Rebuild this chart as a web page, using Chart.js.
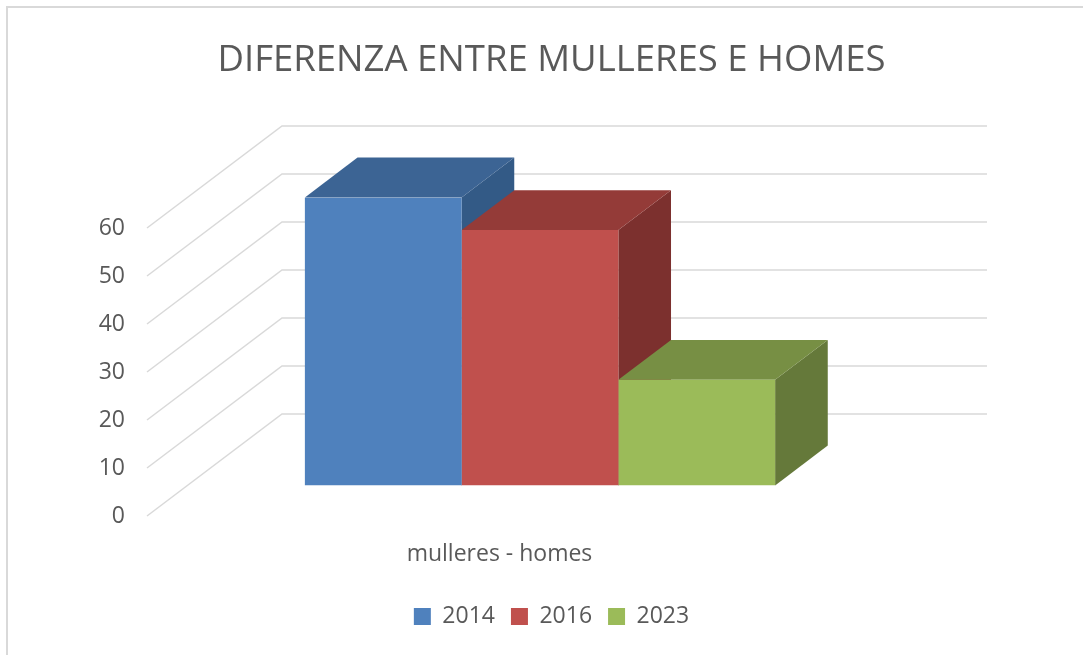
<!DOCTYPE html>
<html><head><meta charset="utf-8">
<script src="https://cdn.jsdelivr.net/npm/chart.js@4.4.1/dist/chart.umd.min.js"></script>
<style>
html,body{margin:0;padding:0;background:#fff;overflow:hidden;}
#wrap{position:absolute;left:0;top:0;width:1083px;height:655px;}
</style>
</head><body>
<div id="wrap"><canvas id="c" width="1083" height="655"></canvas></div>
<script>
// ---- data ----
const categories = ['mulleres - homes'];
const seriesNames = ['2014', '2016', '2023'];
const values2014 = [60];
const values2016 = [53.2];
const values2023 = [22];
const yTickMin = 0;
const yTickMax = 60;
const yTickStep = 10;
const chartTitle = 'DIFERENZA ENTRE MULLERES E HOMES';

// ---- styles ----
const frontColors = ['#4F81BD', '#C0504D', '#9BBB59'];
const topColors   = ['#3C6494', '#943B38', '#778F44'];
const sideColors  = ['#335A86', '#7C302E', '#65793A'];
const textColor = '#595959';
const gridColor = '#d9d9d9';
const FULL_DX = 135, FULL_DY = -102;     // floor depth (front -> back wall)
const BAR_FRONT = 0.30, BAR_DEPTH = 0.39; // bar position inside depth

const threeD = {
  id: 'threeD',
  beforeDraw(chart) {
    const ctx = chart.ctx;
    ctx.save();
    ctx.fillStyle = '#fff';
    ctx.fillRect(0, 0, chart.width, chart.height);
    ctx.strokeStyle = '#d9d9d9';
    ctx.lineWidth = 2;
    ctx.strokeRect(7, 7, chart.width + 20, chart.height + 20);
    ctx.restore();
  },
  beforeDatasetsDraw(chart) {
    const ctx = chart.ctx, ca = chart.chartArea, ys = chart.scales.y;
    ctx.save();
    // oblique gridlines: front edge -> back wall
    ctx.strokeStyle = gridColor;
    ctx.lineWidth = 1.5;
    ys.ticks.forEach(t => {
      const y = ys.getPixelForValue(t.value);
      ctx.beginPath();
      ctx.moveTo(ca.left, y);
      ctx.lineTo(ca.left + FULL_DX, y + FULL_DY);
      ctx.lineTo(ca.right + FULL_DX, y + FULL_DY);
      ctx.stroke();
    });
    // top and side faces of bars, left to right
    const ox = FULL_DX * BAR_FRONT, oy = FULL_DY * BAR_FRONT;
    const dx = FULL_DX * BAR_DEPTH, dy = FULL_DY * BAR_DEPTH;
    chart.data.datasets.forEach((ds, i) => {
      const meta = chart.getDatasetMeta(i);
      meta.data.forEach(bar => {
        const p = bar.getProps(['x', 'y', 'base', 'width'], true);
        const x0 = p.x - p.width / 2 + ox, x1 = p.x + p.width / 2 + ox;
        const yt = p.y + oy, yb = p.base + oy;
        ctx.fillStyle = sideColors[i];
        ctx.beginPath();
        ctx.moveTo(x1, yt); ctx.lineTo(x1 + dx, yt + dy);
        ctx.lineTo(x1 + dx, yb + dy); ctx.lineTo(x1, yb);
        ctx.closePath(); ctx.fill();
        ctx.fillStyle = topColors[i];
        ctx.beginPath();
        ctx.moveTo(x0, yt); ctx.lineTo(x0 + dx, yt + dy);
        ctx.lineTo(x1 + dx, yt + dy); ctx.lineTo(x1, yt);
        ctx.closePath(); ctx.fill();
      });
    });
    ctx.restore();
    // shift the library-drawn front faces into the bar plane
    ctx.save();
    ctx.translate(ox, oy);
  },
  afterDatasetsDraw(chart) {
    chart.ctx.restore();
  }
};

const seriesValues = [values2014, values2016, values2023];
const ctx = document.getElementById('c').getContext('2d');
const chart = new Chart(ctx, {
  type: 'bar',
  data: {
    labels: categories,
    datasets: seriesNames.map((n, i) => ({
      label: n,
      data: seriesValues[i],
      backgroundColor: frontColors[i],
      borderWidth: 0
    }))
  },
  options: {
    responsive: false,
    animation: false,
    devicePixelRatio: 1,
    categoryPercentage: 0.667,
    barPercentage: 1,
    layout: { padding: { left: 20, right: 0, top: 0, bottom: 17 } },
    scales: {
      x: {
        grid: { display: false }, border: { display: false },
        ticks: { color: textColor, font: { family: 'Open Sans', size: 23 }, padding: 17 },
        afterFit(s) { s.height = 73; }
      },
      y: {
        min: yTickMin, max: yTickMax,
        grid: { display: false, drawTicks: false }, border: { display: false },
        ticks: { stepSize: yTickStep, color: textColor, font: { family: 'Open Sans', size: 23 }, padding: 22 },
        afterFit(s) { s.width = 127; }
      },
      yRight: {
        position: 'right', display: true,
        grid: { display: false }, border: { display: false },
        ticks: { display: false },
        afterFit(s) { s.width = 231; }
      }
    },
    plugins: {
      title: {
        display: true, text: chartTitle, color: textColor,
        font: { family: 'Open Sans', size: 36.5, weight: 'normal' },
        padding: { top: 39, bottom: 145.2 }
      },
      legend: {
        position: 'bottom',
        labels: { color: textColor, font: { family: 'Open Sans', size: 23 }, boxWidth: 17, boxHeight: 17, padding: 16 }
      },
      tooltip: { enabled: false }
    }
  },
  plugins: [threeD]
});
</script>
</body></html>
